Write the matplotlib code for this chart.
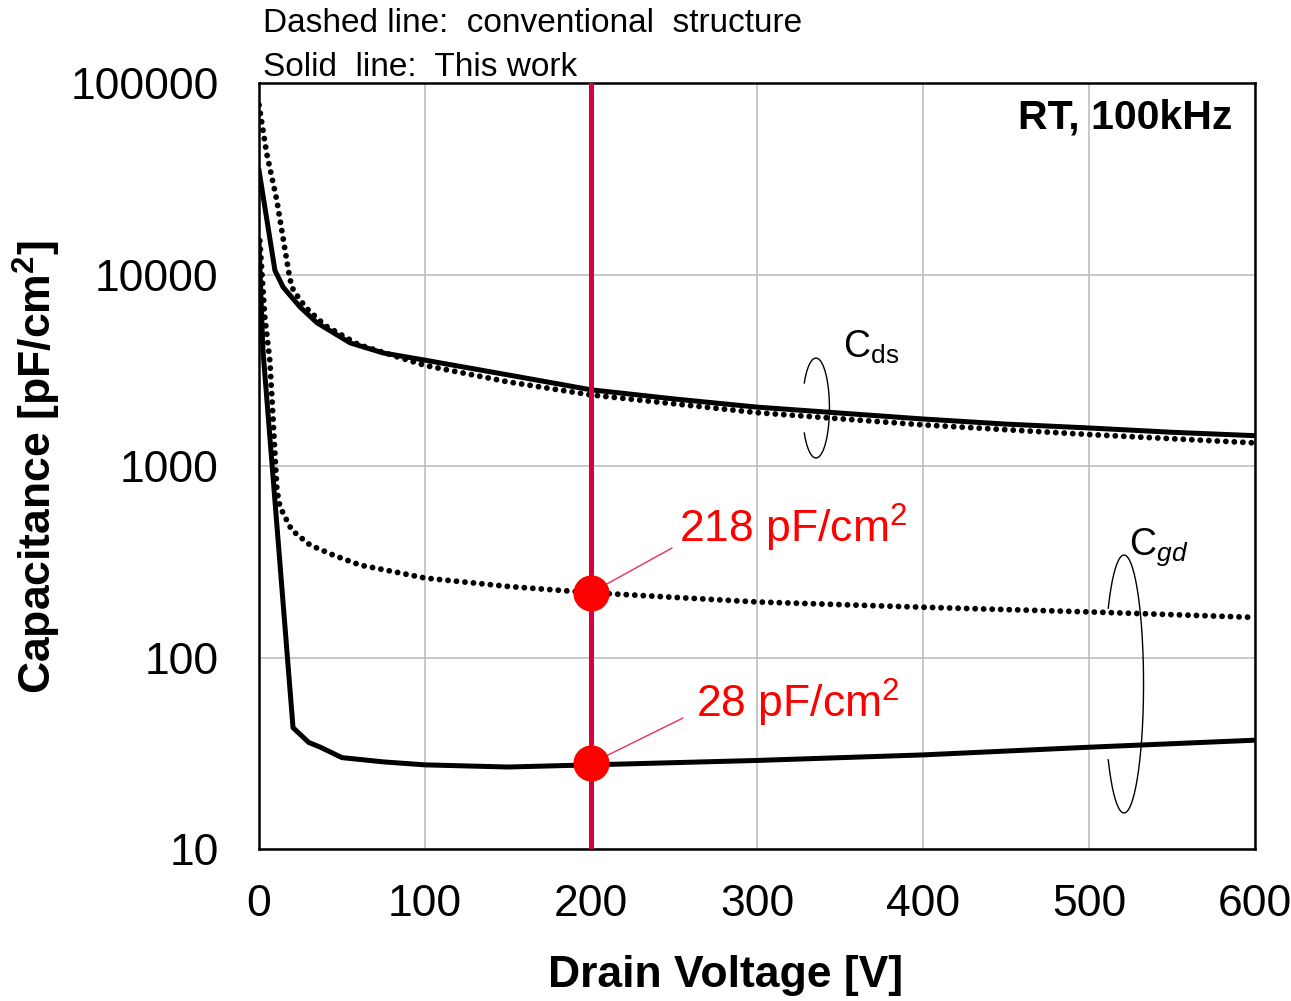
import matplotlib
matplotlib.use("Agg")
import matplotlib.pyplot as plt
import numpy as np

plt.rcParams['font.family'] = ['Liberation Sans', 'DejaVu Sans']
plt.rcParams['mathtext.fontset'] = 'custom'
plt.rcParams['mathtext.rm'] = 'Liberation Sans'
plt.rcParams['mathtext.it'] = 'Liberation Sans:italic'
plt.rcParams['mathtext.bf'] = 'Liberation Sans:bold'

# ---- data ----
v_cds_new = [0, 9.6, 14.5, 24.7, 35, 55, 75, 100, 150, 200, 250, 300, 350, 400, 450, 500, 550, 600]
cds_new = [35000, 10500, 8600, 6770, 5590, 4390, 3890, 3570, 2990, 2500, 2240, 2030, 1890, 1760, 1655, 1580, 1500, 1440]

v_cds_conv = [0, 4.6, 10.7, 15.7, 18, 19.7, 24.7, 29.7, 40, 60, 100, 150, 200, 300, 400, 500, 600]
cds_conv = [76800, 43000, 24500, 13400, 10200, 8600, 7360, 6530, 5400, 4300, 3350, 2750, 2350, 1900, 1640, 1460, 1320]

v_cgd_new = [0, 2.4, 20.5, 30, 37, 50, 75, 100, 150, 200, 300, 400, 500, 600]
cgd_new = [14500, 4000, 43, 36, 34, 30, 28.5, 27.5, 26.8, 27.5, 29, 31, 34, 37]

v_cgd_conv = [0.5, 3.5, 6.6, 10.8, 12.6, 19.7, 30.7, 44.6, 60.8, 80.8, 100, 150, 200, 300, 400, 500, 600]
cgd_conv = [15000, 6000, 3500, 750, 612, 463, 387, 343, 304, 281, 260, 235, 218, 195, 183, 173, 162]

marker_v = 200
marker_caps = [218, 28]
marker_labels = ['218 pF/cm$^2$', '28 pF/cm$^2$']

x_ticks = [0, 100, 200, 300, 400, 500, 600]
y_ticks = [10, 100, 1000, 10000, 100000]
y_ticklabels = ['10', '100', '1000', '10000', '100000']

# ---- figure ----
fig = plt.figure(figsize=(12.91, 10.01), dpi=100)
ax = fig.add_axes([259/1291, 1-849/1001, 996/1291, 766/1001])
ax.set_yscale('log')
ax.set_xlim(0, 600)
ax.set_ylim(10, 100000)
ax.set_xticks(x_ticks)
ax.set_xticklabels([str(t) for t in x_ticks])
ax.set_yticks(y_ticks)
ax.set_yticklabels(y_ticklabels)
ax.minorticks_off()
ax.tick_params(axis='both', length=0, labelsize=32)
ax.tick_params(axis='y', pad=29)
ax.tick_params(axis='x', pad=25)
ax.grid(True, color='#BFBFBF', lw=1.2)
ax.set_axisbelow(True)
for s in ax.spines.values():
    s.set_linewidth(1.8)
    s.set_color('black')

dot = dict(color='black', lw=4.2, linestyle=(0, (0.01, 1.45)), dash_capstyle='round')
ax.plot(v_cds_conv, cds_conv, **dot, zorder=3)
ax.plot(v_cgd_conv, cgd_conv, **dot, zorder=3)
ax.plot(v_cds_new, cds_new, color='black', lw=3.6, zorder=3, solid_joinstyle='round')
ax.plot(v_cgd_new, cgd_new, color='black', lw=3.6, zorder=3, solid_joinstyle='round')

ax.axvline(marker_v, color='#D8003A', lw=3.6, zorder=4)

# annotation lines and labels
ann_line_end = [(248.8, 373), (255.4, 48.3)]
ann_text_pos = [(253, 475), (263.5, 58)]
for c, lab, le, tp in zip(marker_caps, marker_labels, ann_line_end, ann_text_pos):
    ax.annotate('', xy=(marker_v, c), xytext=le,
                arrowprops=dict(arrowstyle='-', color='#E8305A', lw=1.0, shrinkA=0, shrinkB=0),
                zorder=4)
    ax.text(tp[0], tp[1], lab, color='#FF0000', fontsize=32, ha='left', va='center', zorder=6)
ax.plot([marker_v]*len(marker_caps), marker_caps, 'o', color='#FF0000', ms=25, zorder=5)

# Cds / Cgd labels with open rings
ax.text(352, 3665, r'$\mathrm{C}_{\mathrm{ds}}$', fontsize=27, ha='left', va='baseline')
ax.text(524, 343, r'$\mathrm{C}_{gd}$', fontsize=27, ha='left', va='baseline')


def ring(cx, cy, w, h, gap_deg):
    t = np.radians(np.linspace(-180 + gap_deg, 180 - gap_deg, 200))
    ax.plot(cx + w / 2 * np.cos(t), cy + h / 2 * np.sin(t), color='black', lw=1.0,
            transform=ax.transAxes, zorder=6, clip_on=False)


ring(0.5592, 0.5757, 0.0271, 0.1305, 30)
ring(0.8685, 0.2154, 0.0392, 0.3368, 36)

ax.text(0.977, 0.9556, 'RT, 100kHz', transform=ax.transAxes, fontsize=29.5,
        fontweight='bold', ha='right', va='center')

ax.set_xlabel('Drain Voltage [V]', fontsize=32, fontweight='bold')
ax.xaxis.label.set_va('center')
ax.xaxis.set_label_coords((726-259)/996, (849-975)/766)
ax.set_ylabel(r'Capacitance [pF/cm$^{\mathbf{2}}$]', fontsize=32, fontweight='bold')
ax.yaxis.label.set_va('center')
ax.yaxis.set_label_coords((37-259)/996, (849-467)/766)

fig.text(263/1291, 1-24/1001, 'Dashed line:  conventional  structure', fontsize=24,
         ha='left', va='center')
fig.text(263/1291, 1-67/1001, 'Solid  line:  This work', fontsize=24,
         ha='left', va='center')

fig.savefig('out.png', dpi=100)
